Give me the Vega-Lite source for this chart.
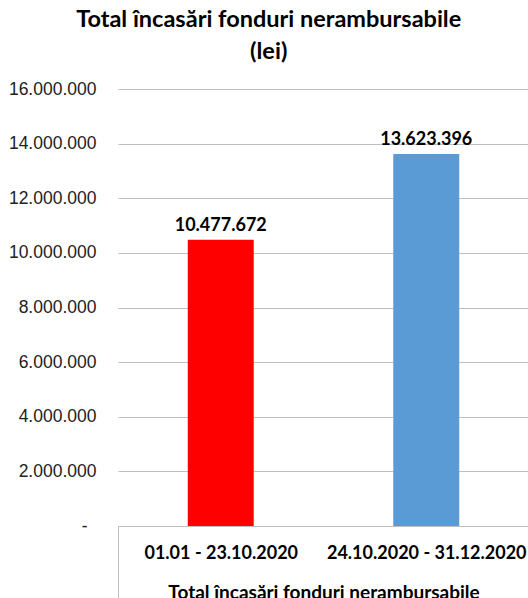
{
  "$schema": "https://vega.github.io/schema/vega-lite/v6.json",
  "width": 411,
  "height": 437,
  "padding": {"left": 8, "top": 7, "right": 0, "bottom": 0},
  "config": {
    "locale": {"number": {"decimal": ",", "thousands": ".", "grouping": [3], "currency": ["", " lei"]}},
    "view": {"stroke": null},
    "background": "white"
  },
  "title": {
    "text": ["Total încasări fonduri nerambursabile", "(lei)"],
    "font": "Lato",
    "fontSize": 23.5,
    "fontWeight": "bold",
    "color": "#000000",
    "anchor": "middle",
    "frame": "bounds",
    "lineHeight": 32,
    "offset": 17
  },
  "data": {
    "values": [
      {"period": "01.01 - 23.10.2020", "value": 10477672},
      {"period": "24.10.2020 - 31.12.2020", "value": 13623396}
    ]
  },
  "encoding": {
    "x": {
      "field": "period",
      "type": "nominal",
      "sort": null,
      "scale": {"paddingInner": 0.679, "paddingOuter": 0.3395},
      "axis": {
        "title": "Total încasări fonduri nerambursabile",
        "titleFont": "Lato",
        "titleFontSize": 19,
        "titleFontWeight": "bold",
        "titleColor": "#000000",
        "titlePadding": -18,
        "labelAngle": 0,
        "labelFont": "Lato",
        "labelFontSize": 18,
        "labelFontWeight": "bold",
        "labelColor": "#000000",
        "labelPadding": -57,
        "labelOffset": 102.75,
        "labelLimit": 0,
        "domainColor": "#BFBFBF",
        "tickBand": "center",
        "tickOffset": -102.75,
        "tickSize": 75,
        "tickColor": "#BFBFBF",
        "tickOpacity": {"condition": {"test": "datum.value == '24.10.2020 - 31.12.2020'", "value": 0}, "value": 1}
      }
    },
    "y": {
      "field": "value",
      "type": "quantitative",
      "scale": {"domain": [0, 16000000]},
      "axis": {
        "title": null,
        "values": [0, 2000000, 4000000, 6000000, 8000000, 10000000, 12000000, 14000000, 16000000],
        "format": ",d",
        "labelExpr": "datum.value == 0 ? '-' : datum.label",
        "labelFont": "Liberation Sans",
        "labelFontSize": 17.5,
        "labelColor": "#222222",
        "labelPadding": {"condition": {"test": "datum.value == 0", "value": 31}, "value": 22},
        "domain": false,
        "ticks": false,
        "grid": true,
        "gridColor": "#BFBFBF",
        "gridWidth": 1
      }
    }
  },
  "layer": [
    {
      "mark": {"type": "bar"},
      "encoding": {
        "color": {
          "field": "period",
          "type": "nominal",
          "scale": {"domain": ["01.01 - 23.10.2020", "24.10.2020 - 31.12.2020"], "range": ["#FF0000", "#5B9BD5"]},
          "legend": null
        }
      }
    },
    {
      "mark": {"type": "text", "dy": -14, "font": "Lato", "fontSize": 18, "fontWeight": "bold", "color": "#000000"},
      "encoding": {
        "text": {"field": "value", "type": "quantitative", "format": ",d"}
      }
    }
  ]
}
